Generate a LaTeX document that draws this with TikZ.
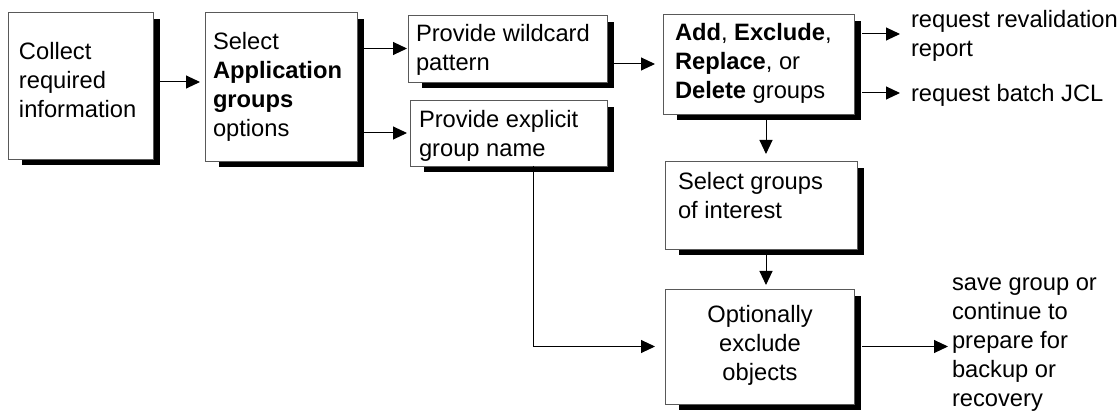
\documentclass[tikz,border=0pt]{standalone}
\usepackage{fontspec}
\setmainfont{Liberation Sans}
\usetikzlibrary{calc,arrows.meta,backgrounds}

\begin{document}
\begin{tikzpicture}[x=1pt,y=-1pt,
  box/.style={draw=black!65, line width=0.9pt, fill=white, inner sep=0pt, outer sep=0pt},
  txt/.style={inner sep=0pt, outer sep=0pt, font=\fontsize{23.7}{29}\selectfont, align=left},
  arr/.style={line width=1pt, -{Triangle[length=14pt,width=13pt]}}
]
\useasboundingbox (0,0) rectangle (1120,414);

% process boxes (centre, width, height in px)
\node[box, minimum width=145pt, minimum height=147pt] (collect) at (80.5,85.5) {};
\node[box, minimum width=152pt, minimum height=149pt] (select)  at (281,86.5) {};
\node[box, minimum width=199pt, minimum height=67pt]  (wild)    at (507.5,48.5) {};
\node[box, minimum width=197pt, minimum height=66pt]  (expl)    at (508.5,133) {};
\node[box, minimum width=191pt, minimum height=100pt] (add)     at (758.5,64) {};
\node[box, minimum width=192pt, minimum height=88pt]  (selg)    at (761,205) {};
\node[box, minimum width=189pt, minimum height=115pt] (opt)     at (759.5,346.5) {};

% drop shadows behind the boxes
\begin{scope}[on background layer]
  \fill[white] (0,0) rectangle (1120,414);
  \foreach \b in {collect,select,wild,expl,add,selg,opt}
    \fill[black] ([shift={(14,6)}]\b.south west) rectangle ([shift={(7,7)}]\b.north east);
\end{scope}

% box texts
\node[txt, anchor=west] (collect-t) at (19,80)  {Collect\\required\\information};
\node[txt, anchor=west] (select-t)  at (213,87) {Select\\\textbf{Application}\\\textbf{groups}\\options};
\node[txt, anchor=west] (wild-t)    at (416,49.5) {Provide wildcard\\pattern};
\node[txt, anchor=west] (expl-t)    at (419,135.5) {Provide explicit\\group name};
\node[txt, anchor=west] (add-t)     at (675,63) {\textbf{Add}, \textbf{Exclude},\\\textbf{Replace}, or\\\textbf{Delete} groups};
\node[txt, anchor=west] (selg-t)    at (678,196) {Select groups\\of interest};
\node[txt, align=center] (opt-t)    at (760,345) {Optionally\\exclude\\objects};

% outcome texts
\node[txt, anchor=west] (reval) at (911,36) {request revalidation\\report};
\node[txt, anchor=west] (batch) at (911,95) {request batch JCL};
\node[txt, anchor=west] (save)  at (952,345) {save group or\\continue to\\prepare for\\backup or\\recovery};

% connectors
\draw[arr] ($(collect.east)+(7,-3.5)$) -- ($(select.west)+(-5,-4.5)$);
\draw[arr] ($(select.east |- wild.west)+(6,0)$) -- ($(wild.west)+(-1,0)$);
\draw[arr] ($(select.east |- expl.west)+(6,0)$) -- ($(expl.west)+(-3,0)$);
\draw[arr] ($(wild.east |- add.west)+(5,0)$) -- ($(add.west)+(-8,0)$);
\draw[arr] ($(add.east |- reval.west)+(8,-2)$) -- ($(reval.west)+(-11,-2)$);
\draw[arr] ($(add.east |- batch.west)+(8,-2)$) -- ($(batch.west)+(-11,-2)$);
\draw[arr] ($(add.south)+(7.5,6)$) -- ($(selg.north)+(5,-7)$);
\draw[arr] ($(selg.south)+(5,6)$) -- ($(opt.north)+(6.5,-4)$);
\draw[arr] ($(opt.east)+(8,0)$) -- ($(opt.east -| save.west)+(-4,0)$);
\draw[arr] ($(expl.south)+(24.5,0)$) |- ($(opt.west)+(-10,0)$);
\end{tikzpicture}
\end{document}
